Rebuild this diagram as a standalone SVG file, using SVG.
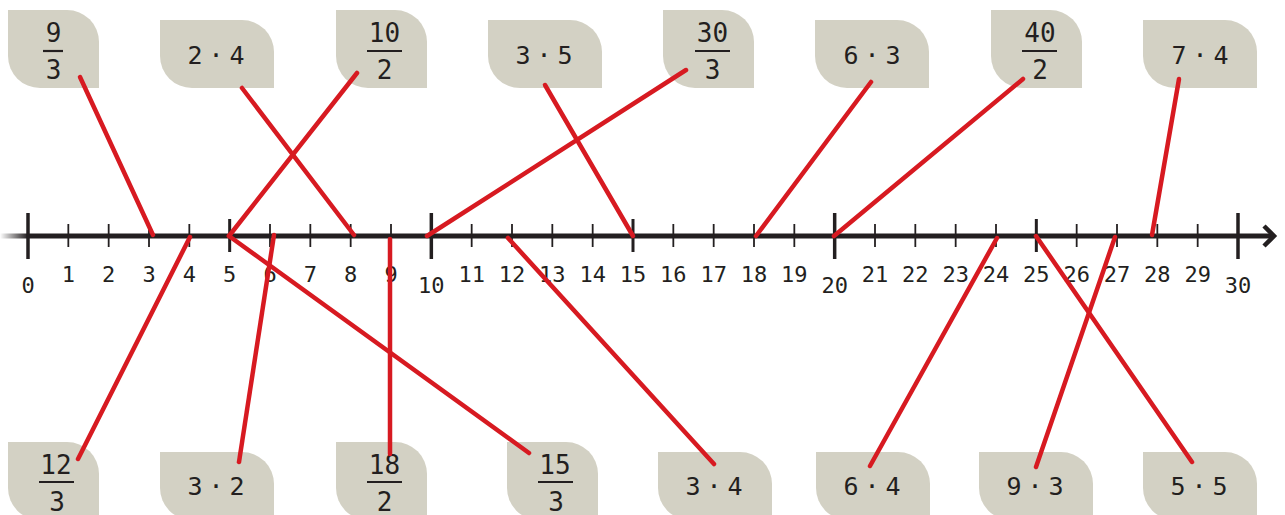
<svg xmlns="http://www.w3.org/2000/svg" width="1285" height="515" viewBox="0 0 1285 515">
<style>
.card{fill:#d3d1c4}
.t{font-family:"DejaVu Sans Mono","Liberation Mono",monospace;fill:#231f20;text-anchor:middle}
.ct{font-size:25px}
.ft{font-size:26px}
.lab{font-size:22px}
.bar{stroke:#231f20;stroke-width:2.2}
.tk{stroke:#231f20}
.maj{stroke-width:3.5}
.mid{stroke-width:3}
.sm{stroke-width:1.8}
.con{stroke:#d71a21;stroke-width:4.5;stroke-linecap:round;fill:none}
</style>
<defs>
<linearGradient id="fade" gradientUnits="userSpaceOnUse" x1="0" y1="0" x2="28" y2="0">
<stop offset="0" stop-color="#231f20" stop-opacity="0"/>
<stop offset="1" stop-color="#231f20" stop-opacity="1"/>
</linearGradient>
</defs>

<g id="axis">
<line x1="0" y1="236" x2="1272" y2="236" stroke="url(#fade)" stroke-width="5"/>
<polyline points="1264,226 1274,236 1264,246" fill="none" stroke="#231f20" stroke-width="4.5" stroke-linejoin="miter"/>
<g class="tk">
<line class="maj" x1="28" y1="213" x2="28" y2="259"/>
<line class="sm" x1="68.33" y1="224" x2="68.33" y2="247"/>
<line class="sm" x1="108.67" y1="224" x2="108.67" y2="247"/>
<line class="sm" x1="149" y1="224" x2="149" y2="247"/>
<line class="sm" x1="189.33" y1="224" x2="189.33" y2="247"/>
<line class="mid" x1="229.67" y1="219" x2="229.67" y2="252"/>
<line class="sm" x1="270" y1="224" x2="270" y2="247"/>
<line class="sm" x1="310.33" y1="224" x2="310.33" y2="247"/>
<line class="sm" x1="350.67" y1="224" x2="350.67" y2="247"/>
<line class="sm" x1="391" y1="224" x2="391" y2="247"/>
<line class="maj" x1="431.33" y1="213" x2="431.33" y2="259"/>
<line class="sm" x1="471.67" y1="224" x2="471.67" y2="247"/>
<line class="sm" x1="512" y1="224" x2="512" y2="247"/>
<line class="sm" x1="552.33" y1="224" x2="552.33" y2="247"/>
<line class="sm" x1="592.67" y1="224" x2="592.67" y2="247"/>
<line class="mid" x1="633" y1="219" x2="633" y2="252"/>
<line class="sm" x1="673.33" y1="224" x2="673.33" y2="247"/>
<line class="sm" x1="713.67" y1="224" x2="713.67" y2="247"/>
<line class="sm" x1="754" y1="224" x2="754" y2="247"/>
<line class="sm" x1="794.33" y1="224" x2="794.33" y2="247"/>
<line class="maj" x1="834.67" y1="213" x2="834.67" y2="259"/>
<line class="sm" x1="875" y1="224" x2="875" y2="247"/>
<line class="sm" x1="915.33" y1="224" x2="915.33" y2="247"/>
<line class="sm" x1="955.67" y1="224" x2="955.67" y2="247"/>
<line class="sm" x1="996" y1="224" x2="996" y2="247"/>
<line class="mid" x1="1036.33" y1="219" x2="1036.33" y2="252"/>
<line class="sm" x1="1076.67" y1="224" x2="1076.67" y2="247"/>
<line class="sm" x1="1117" y1="224" x2="1117" y2="247"/>
<line class="sm" x1="1157.33" y1="224" x2="1157.33" y2="247"/>
<line class="sm" x1="1197.67" y1="224" x2="1197.67" y2="247"/>
<line class="maj" x1="1238" y1="213" x2="1238" y2="259"/>
</g>
<g class="t lab">
<text x="28" y="293">0</text>
<text x="68.33" y="282">1</text>
<text x="108.67" y="282">2</text>
<text x="149" y="282">3</text>
<text x="189.33" y="282">4</text>
<text x="229.67" y="282">5</text>
<text x="270" y="282">6</text>
<text x="310.33" y="282">7</text>
<text x="350.67" y="282">8</text>
<text x="391" y="282">9</text>
<text x="431.33" y="293">10</text>
<text x="471.67" y="282">11</text>
<text x="512" y="282">12</text>
<text x="552.33" y="282">13</text>
<text x="592.67" y="282">14</text>
<text x="633" y="282">15</text>
<text x="673.33" y="282">16</text>
<text x="713.67" y="282">17</text>
<text x="754" y="282">18</text>
<text x="794.33" y="282">19</text>
<text x="834.67" y="293">20</text>
<text x="875" y="282">21</text>
<text x="915.33" y="282">22</text>
<text x="955.67" y="282">23</text>
<text x="996" y="282">24</text>
<text x="1036.33" y="282">25</text>
<text x="1076.67" y="282">26</text>
<text x="1117" y="282">27</text>
<text x="1157.33" y="282">28</text>
<text x="1197.67" y="282">29</text>
<text x="1238" y="293">30</text>
</g>
</g>

<!-- top cards -->
<g id="card-9-3">
<path class="card" d="M8,10 H67 A32,32 0 0 1 99,42 V88 H40 A32,32 0 0 1 8,56 Z"/>
<text class="t ft" x="53.5" y="42">9</text>
<line class="bar" x1="43" y1="51" x2="63" y2="51"/>
<text class="t ft" x="53.5" y="79">3</text>
</g>
<g id="card-2x4">
<path class="card" d="M160,20 H242 A32,32 0 0 1 274,52 V88 H192 A32,32 0 0 1 160,56 Z"/>
<text class="t ct" x="216" y="64">2<tspan dx="6">·</tspan><tspan dx="6">4</tspan></text>
</g>
<g id="card-10-2">
<path class="card" d="M336,10 H395 A32,32 0 0 1 427,42 V88 H368 A32,32 0 0 1 336,56 Z"/>
<text class="t ft" x="384.5" y="42">10</text>
<line class="bar" x1="367" y1="51" x2="402" y2="51"/>
<text class="t ft" x="384.5" y="79">2</text>
</g>
<g id="card-3x5">
<path class="card" d="M488,20 H570 A32,32 0 0 1 602,52 V88 H520 A32,32 0 0 1 488,56 Z"/>
<text class="t ct" x="544" y="64">3<tspan dx="6">·</tspan><tspan dx="6">5</tspan></text>
</g>
<g id="card-30-3">
<path class="card" d="M663,10 H722 A32,32 0 0 1 754,42 V88 H695 A32,32 0 0 1 663,56 Z"/>
<text class="t ft" x="712.5" y="42">30</text>
<line class="bar" x1="695" y1="51" x2="730" y2="51"/>
<text class="t ft" x="712.5" y="79">3</text>
</g>
<g id="card-6x3">
<path class="card" d="M815,20 H897 A32,32 0 0 1 929,52 V88 H847 A32,32 0 0 1 815,56 Z"/>
<text class="t ct" x="872" y="64">6<tspan dx="6">·</tspan><tspan dx="6">3</tspan></text>
</g>
<g id="card-40-2">
<path class="card" d="M991,10 H1050 A32,32 0 0 1 1082,42 V88 H1023 A32,32 0 0 1 991,56 Z"/>
<text class="t ft" x="1040" y="42">40</text>
<line class="bar" x1="1022" y1="51" x2="1057" y2="51"/>
<text class="t ft" x="1040" y="79">2</text>
</g>
<g id="card-7x4">
<path class="card" d="M1143,20 H1225 A32,32 0 0 1 1257,52 V88 H1175 A32,32 0 0 1 1143,56 Z"/>
<text class="t ct" x="1200" y="64">7<tspan dx="6">·</tspan><tspan dx="6">4</tspan></text>
</g>

<!-- bottom cards -->
<g id="card-12-3">
<path class="card" d="M8,442 H67 A32,32 0 0 1 99,474 V520 H40 A32,32 0 0 1 8,488 Z"/>
<text class="t ft" x="56" y="474">12</text>
<line class="bar" x1="39" y1="482" x2="74" y2="482"/>
<text class="t ft" x="57" y="511">3</text>
</g>
<g id="card-3x2">
<path class="card" d="M160,452 H242 A32,32 0 0 1 274,484 V520 H192 A32,32 0 0 1 160,488 Z"/>
<text class="t ct" x="216" y="495">3<tspan dx="6">·</tspan><tspan dx="6">2</tspan></text>
</g>
<g id="card-18-2">
<path class="card" d="M336,442 H395 A32,32 0 0 1 427,474 V520 H368 A32,32 0 0 1 336,488 Z"/>
<text class="t ft" x="384.5" y="474">18</text>
<line class="bar" x1="367" y1="482" x2="402" y2="482"/>
<text class="t ft" x="384.5" y="511">2</text>
</g>
<g id="card-15-3">
<path class="card" d="M507,442 H566 A32,32 0 0 1 598,474 V520 H539 A32,32 0 0 1 507,488 Z"/>
<text class="t ft" x="555" y="474">15</text>
<line class="bar" x1="538" y1="482" x2="573" y2="482"/>
<text class="t ft" x="556" y="511">3</text>
</g>
<g id="card-3x4">
<path class="card" d="M658,452 H740 A32,32 0 0 1 772,484 V520 H690 A32,32 0 0 1 658,488 Z"/>
<text class="t ct" x="714" y="495">3<tspan dx="6">·</tspan><tspan dx="6">4</tspan></text>
</g>
<g id="card-6x4">
<path class="card" d="M816,452 H898 A32,32 0 0 1 930,484 V520 H848 A32,32 0 0 1 816,488 Z"/>
<text class="t ct" x="872" y="495">6<tspan dx="6">·</tspan><tspan dx="6">4</tspan></text>
</g>
<g id="card-9x3">
<path class="card" d="M979,452 H1061 A32,32 0 0 1 1093,484 V520 H1011 A32,32 0 0 1 979,488 Z"/>
<text class="t ct" x="1035" y="495">9<tspan dx="6">·</tspan><tspan dx="6">3</tspan></text>
</g>
<g id="card-5x5">
<path class="card" d="M1143,452 H1225 A32,32 0 0 1 1257,484 V520 H1175 A32,32 0 0 1 1143,488 Z"/>
<text class="t ct" x="1199" y="495">5<tspan dx="6">·</tspan><tspan dx="6">5</tspan></text>
</g>

<g id="connectors" class="con">
<line x1="80" y1="77" x2="153" y2="235"/>
<line x1="242" y1="88" x2="354" y2="235"/>
<line x1="357" y1="73" x2="229" y2="236"/>
<line x1="545" y1="85" x2="633" y2="236"/>
<line x1="686" y1="70" x2="427" y2="236"/>
<line x1="871" y1="82" x2="756" y2="236"/>
<line x1="1023" y1="79" x2="834" y2="236"/>
<line x1="1179" y1="79" x2="1152" y2="235"/>
<line x1="78" y1="459" x2="190" y2="237"/>
<line x1="239" y1="462" x2="274" y2="235"/>
<line x1="390" y1="454" x2="390" y2="239"/>
<line x1="529" y1="453" x2="229" y2="236"/>
<line x1="714" y1="464" x2="508" y2="238"/>
<line x1="870" y1="466" x2="997" y2="238"/>
<line x1="1036" y1="467" x2="1115" y2="237"/>
<line x1="1192" y1="462" x2="1036" y2="236"/>
</g>
</svg>
